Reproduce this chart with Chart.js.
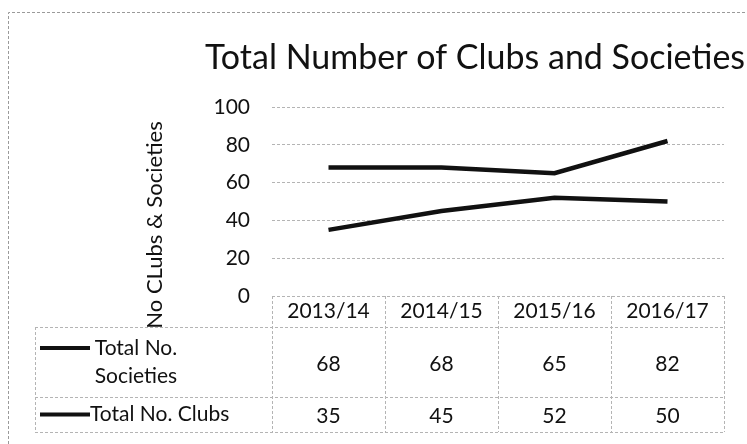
<!DOCTYPE html>
<html>
<head>
<meta charset="utf-8">
<script src="https://cdn.jsdelivr.net/npm/chart.js@4"></script>
<style>
  html, body { margin: 0; padding: 0; background: #fff; }
</style>
</head>
<body>
<canvas id="chart" width="747" height="444"></canvas>
<script>
const seasons = ["2013/14", "2014/15", "2015/16", "2016/17"];
const societies = [68, 68, 65, 82];
const clubs = [35, 45, 52, 50];
const rowLabels = [["Total No.", "Societies"], ["Total No. Clubs"]];
const chartTitle = "Total Number of Clubs and Societies";
const yTitle = "No CLubs & Societies";

const FONT = "Lato, 'Liberation Sans', sans-serif";
const INK = "#111";
const RULE = "#b4b4b4";

// draws the chart title, axis title, data table and outer frame
const tablePlugin = {
  id: "dataTable",
  afterDraw(chart) {
    const { ctx, chartArea, scales } = chart;
    const x = scales.x;
    const half = (x.getPixelForValue(1) - x.getPixelForValue(0)) / 2;
    const top = chartArea.bottom;
    const rowEdges = [top, top + 31, top + 101, top + 136];
    const tableLeft = 35;

    ctx.save();

    // outer frame
    ctx.strokeStyle = "#9a9a9a";
    ctx.lineWidth = 1;
    ctx.setLineDash([3, 2]);
    ctx.beginPath();
    ctx.moveTo(8.5, 444);
    ctx.lineTo(8.5, 12.5);
    ctx.lineTo(747, 12.5);
    ctx.stroke();

    // title
    ctx.setLineDash([]);
    ctx.fillStyle = INK;
    ctx.font = "34px " + FONT;
    ctx.textAlign = "center";
    ctx.textBaseline = "middle";
    ctx.fillText(chartTitle, 475, 58);

    // y axis title
    ctx.save();
    ctx.translate(155, 225);
    ctx.rotate(-Math.PI / 2);
    ctx.font = "22px " + FONT;
    ctx.fillText(yTitle, 0, 0);
    ctx.restore();

    // table rules
    ctx.strokeStyle = RULE;
    ctx.lineWidth = 1;
    ctx.setLineDash([3, 2]);
    ctx.beginPath();
    for (let r = 1; r < rowEdges.length; r++) {
      ctx.moveTo(tableLeft, rowEdges[r] + 0.5);
      ctx.lineTo(chartArea.right, rowEdges[r] + 0.5);
    }
    for (let i = 0; i <= seasons.length; i++) {
      const px = Math.round(x.getPixelForValue(i) - half) + 0.5;
      ctx.moveTo(px, rowEdges[0]);
      ctx.lineTo(px, rowEdges[3]);
    }
    ctx.moveTo(tableLeft + 0.5, rowEdges[1]);
    ctx.lineTo(tableLeft + 0.5, rowEdges[3]);
    ctx.stroke();
    ctx.setLineDash([]);

    // header labels
    ctx.fillStyle = INK;
    ctx.font = "21px " + FONT;
    seasons.forEach((s, i) => {
      ctx.fillText(s, x.getPixelForValue(i), (rowEdges[0] + rowEdges[1]) / 2);
    });

    // series rows
    const series = [societies, clubs];
    series.forEach((vals, r) => {
      const yMid = (rowEdges[r + 1] + rowEdges[r + 2]) / 2;
      vals.forEach((v, i) => {
        ctx.fillText(String(v), x.getPixelForValue(i), yMid + 2);
      });
      const lines = rowLabels[r];
      const lh = 28;
      const firstY = yMid - (lines.length - 1) * lh / 2;
      // legend swatch
      ctx.strokeStyle = INK;
      ctx.lineWidth = 4;
      ctx.beginPath();
      ctx.moveTo(40, firstY);
      ctx.lineTo(90, firstY);
      ctx.stroke();
      if (lines.length > 1) {
        lines.forEach((t, k) => ctx.fillText(t, 136, firstY + k * lh));
      } else {
        ctx.textAlign = "left";
        ctx.fillText(lines[0], 90, firstY);
        ctx.textAlign = "center";
      }
    });

    ctx.restore();
  },
};

const ctx = document.getElementById("chart").getContext("2d");
new Chart(ctx, {
  type: "line",
  data: {
    labels: seasons,
    datasets: [
      {
        label: "Total No. Societies",
        data: societies,
        borderColor: INK,
        borderWidth: 4.5,
        pointRadius: 0,
        tension: 0,
      },
      {
        label: "Total No. Clubs",
        data: clubs,
        borderColor: INK,
        borderWidth: 4.5,
        pointRadius: 0,
        tension: 0,
      },
    ],
  },
  options: {
    responsive: false,
    animation: false,
    layout: { padding: { left: 140, right: 23, top: 107, bottom: 148 } },
    plugins: {
      legend: { display: false },
      tooltip: { enabled: false },
      title: { display: false },
    },
    scales: {
      x: {
        display: false,
        offset: true,
      },
      y: {
        min: 0,
        max: 100,
        ticks: {
          stepSize: 20,
          padding: 22,
          color: INK,
          font: { family: FONT, size: 21 },
        },
        grid: { color: RULE, drawTicks: false, tickBorderDash: [3, 2] },
        border: { display: false, dash: [3, 2] },
        afterFit(scale) {
          scale.width = 132;
        },
      },
    },
  },
  plugins: [tablePlugin],
});
</script>
</body>
</html>
